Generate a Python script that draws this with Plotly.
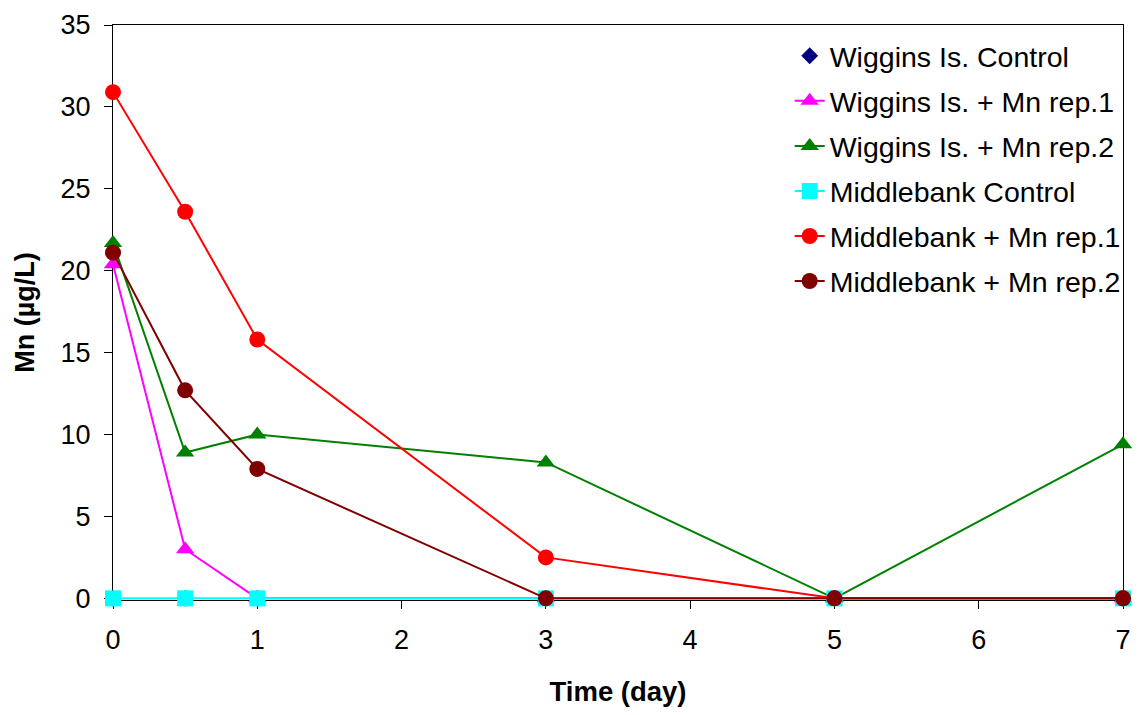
import plotly.graph_objects as go

time = [0, 0.5, 1, 3, 5, 7]
wiggins_control = [0, 0, 0, 0, 0, 0]
wiggins_rep1 = [20.4, 3.0, 0, 0, 0, 0]
wiggins_rep2 = [21.7, 8.9, 10.0, 8.3, 0, 9.4]
middlebank_control = [0, 0, 0, 0, 0, 0]
middlebank_rep1 = [30.9, 23.6, 15.8, 2.5, 0, 0]
middlebank_rep2 = [21.1, 12.7, 7.9, 0, 0, 0]

series = [
    ("Wiggins Is. Control", wiggins_control, "#000080", "diamond", "markers"),
    ("Wiggins Is. + Mn rep.1", wiggins_rep1, "#FF00FF", "triangle-up", "lines+markers"),
    ("Wiggins Is. + Mn rep.2", wiggins_rep2, "#008000", "triangle-up", "lines+markers"),
    ("Middlebank Control", middlebank_control, "#00FFFF", "square", "lines+markers"),
    ("Middlebank + Mn rep.1", middlebank_rep1, "#FF0000", "circle", "lines+markers"),
    ("Middlebank + Mn rep.2", middlebank_rep2, "#800000", "circle", "lines+markers"),
]

fig = go.Figure()
for i, (name, vals, color, sym, mode) in enumerate(series):
    fig.add_trace(go.Scatter(
        x=time, y=vals, name=name, mode=mode,
        line=dict(color=color, width=2),
        marker=dict(color=color, symbol=sym, size=16 if sym != "diamond" else 13),
        legendgroup=f"g{i}",
        cliponaxis=False,
    ))

font_family = "Liberation Sans, Arial, sans-serif"
axis_font = dict(family=font_family, size=27, color="black")
fig.update_layout(
    width=1141, height=715,
    margin=dict(l=113, r=10, t=17, b=115),
    plot_bgcolor="white", paper_bgcolor="white",
    font=dict(family=font_family, size=27, color="black"),
    showlegend=True,
    legend=dict(
        x=0.67, y=0.99, xanchor="left", yanchor="top",
        bgcolor="rgba(255,255,255,0)", borderwidth=0,
        font=dict(size=28.5, color="black"),
        traceorder="grouped", tracegroupgap=5,
    ),
    xaxis=dict(
        range=[0, 7], dtick=1, tick0=0,
        showgrid=False, zeroline=False,
        showline=True, linecolor="black", linewidth=1, mirror=True,
        layer="below traces",
        ticks="outside", ticklen=8, tickcolor="black",
        ticklabelstandoff=8,
        tickfont=axis_font,
        title=dict(text="<b>Time (day)</b>", font=dict(size=27.5), standoff=27),
    ),
    yaxis=dict(
        range=[-0.1, 35], dtick=5,
        showgrid=False, zeroline=False,
        showline=True, linecolor="black", linewidth=1, mirror=True,
        layer="below traces",
        ticks="outside", ticklen=8, tickcolor="black",
        ticklabelstandoff=8,
        tickfont=axis_font,
        title=dict(text="<b>Mn (µg/L)</b>", font=dict(size=27), standoff=18),
    ),
)

fig.write_html("out.html")
